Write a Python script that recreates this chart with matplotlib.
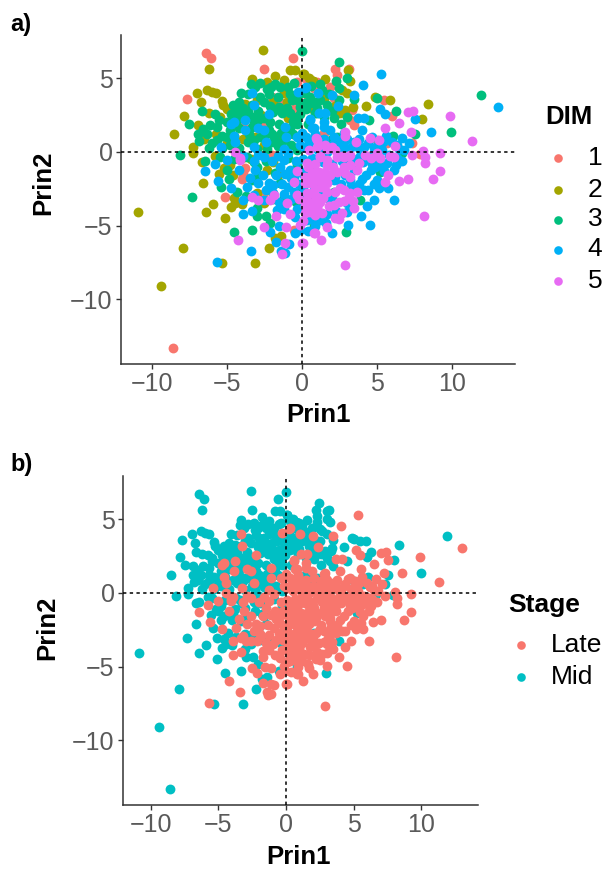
#coding=utf-8
"""
Two PCA score plots of the same points: a) coloured by DIM, b) coloured by Stage
"""
import numpy as np
import matplotlib
matplotlib.use('Agg')
import matplotlib.pyplot as plt
from matplotlib.lines import Line2D

plt.rcParams['font.family'] = ['Liberation Sans', 'DejaVu Sans']

# points, (Prin1, Prin2)
dim1 = [(-8.6,-13.3),(-6.4,6.72),(-6.07,6.36),(-7.67,3.62),(-0.6,6.36),(-2.51,5.63),(-0.33,4.77),(-2.0,3.76),
        (0.78,4.32),(1.0,4.77),(2.22,5.63),(3.16,5.63),(2.33,5.23),(0.33,4.89),(2.11,3.64),(5.45,3.53),(6.0,2.44),
        (3.22,2.17),(3.45,1.83),(3.33,2.85),(1.45,1.27),(5.67,0.59),(7.33,0.59),(5.0,0.81),(7.89,-0.14),
        (-5.11,-3.03),(-4.0,-1.83),(-3.78,-1.11),(-3.89,-1.45),(-2.6,-2.87),(-0.55,-5.3),(-2.0,-0.2),
        (-1.4,3.3),(-0.5,2.9),(-2.6,1.8),(-3.9,1.9),(0.4,3.6),(1.9,4.4)]
dim2 = [(-9.4,-9.1),(-2.6,6.95),(-6.18,5.63),(-8.49,1.24),(-7.84,2.44),(-6.98,3.98),(-6.29,4.21),(-6.0,4.1),
        (-5.71,3.98),(-6.69,3.42),(-5.29,3.48),(-5.27,3.19),(-6.22,2.62),(-5.44,2.35),(-6.89,1.83),(-7.27,0.32),
        (-3.33,4.93),(-1.78,5.18),(-0.78,5.54),(-0.44,5.54),(0.07,5.29),(-1.22,4.89),(-2.33,4.77),(0.73,4.82),
        (-1.22,3.98),(-1.0,3.42),(-3.78,3.26),(-3.1,1.04),(-5.0,0.6),(0.11,5.29),(0.73,4.84),(1.56,4.93),
        (3.05,5.54),(3.22,4.82),(3.0,3.98),(4.27,3.14),(4.89,3.76),(5.89,3.51),(8.38,3.26),(8.0,2.22),(3.4,3.03),
        (2.56,2.62),(2.89,2.85),(0.78,2.85),(-10.89,-4.1),(-7.89,-6.49),(-6.4,-4.1),(-5.89,-3.51),(-6.62,-2.1),
        (-5.09,-4.48),(-5.31,-7.56),(-3.15,-7.56),(-2.22,-6.49),(-1.42,-5.68),(-1.78,-5.86),(-4.71,-3.76),
        (-4.55,-3.14),(-4.44,-3.5),(-4.0,-3.53),(-5.51,-1.49),(-6.67,-0.66),(-7.22,-0.09),(-4.78,-0.88),
        (-1.89,-0.66),(-2.55,-3.48),
        (-5.0,2.9),(-4.5,1.1),(-3.9,0.9),(-2.5,0.5),(-3.0,3.5),(-1.9,3.4),(-2.7,2.5),(-0.9,2.3),(-1.7,1.0),
        (-6.5,0.9),(-5.7,1.2),(-3.4,-0.5),(-4.6,-1.6),(-5.2,-1.1),(-2.3,-1.2),(-1.6,-1.6),(-3.0,-2.8),(-2.0,-2.7),
        (-4.0,-0.4),(-5.8,-0.3),(0.5,5.0),(1.5,3.6),(2.2,3.1),(2.7,4.2)]
dim3 = [(0.02,6.85),(-8.1,-0.2),(-6.67,2.78),(-7.49,1.92),(-6.82,0.75),(-4.04,3.98),(-3.11,4.43),(-2.04,4.43),
        (-1.44,4.43),(-4.44,2.92),(-2.55,3.42),(-6.6,1.56),(-6.11,1.83),(-5.67,1.72),(-5.67,0.81),(-5.0,2.0),
        (-4.0,2.62),(-3.33,2.4),(-3.22,1.95),(-2.55,2.28),(-1.55,3.08),(-1.33,2.62),(-0.67,3.53),(-0.11,3.08),
        (0.56,3.3),(-2.22,1.49),(-1.78,0.81),(-0.78,2.62),(-0.33,2.4),(1.0,2.62),(-3.33,1.72),(-4.33,2.17),
        (2.45,6.11),(2.29,4.82),(3.0,5.04),(2.49,4.37),(1.33,4.2),(3.49,3.6),(5.02,3.64),(6.29,2.8),(4.49,2.17),
        (7.51,1.22),(6.07,1.11),(9.96,1.36),(11.93,3.85),(0.56,3.76),(1.22,3.53),(1.67,3.19),(0.22,3.3),(0.89,2.62),
        (2.11,2.28),(2.33,1.04),(-6.44,-0.59),(-7.35,-3.03),(-4.84,-1.85),(-5.4,-2.35),(-4.29,-2.69),(-4.53,-5.41),
        (-3.31,-5.29),(-2.98,-4.34),(-2.42,-4.34),(-5.44,-0.32),(-3.67,-0.32),(-3.22,-0.66),(-2.89,-1.56),
        (-3.33,-1.9),(-1.44,-2.13),(-1.22,-3.03),(0.0,-2.35),(0.78,-5.0),(0.0,-3.7),(2.93,-5.41),(5.22,-1.38),
        (0.89,-2.92),(3.89,-3.26),(2.11,-2.69),(0.89,-4.6),(6.67,-0.09),
        (-3.4,4.6),(-2.8,4.7),(-2.3,4.3),(-1.8,4.6),(-0.9,4.4),(-0.5,4.7),(-3.6,3.9),(-2.8,3.7),(-2.2,3.9),(-1.6,3.7),
        (-0.8,3.9),(-0.2,3.9),(-4.2,3.4),(-3.3,3.2),(-2.1,3.1),(-1.0,3.0),(-0.3,3.5),(-4.7,2.6),(-3.6,2.7),(-2.9,2.8),
        (-1.9,2.7),(-0.6,2.1),(-0.1,2.6),(-5.5,2.2),(-4.8,1.5),(-4.2,1.6),(-3.5,1.2),(-2.9,2.2),(-2.1,2.0),(-1.5,1.9),
        (-0.8,1.6),(-0.3,1.9),(-6.3,1.2),(-5.3,1.1),(-4.8,0.5),(-4.2,0.3),(-3.6,0.7),(-2.8,1.0),(-2.0,1.2),(-1.4,1.3),
        (-0.6,1.2),(-6.0,0.6),(-5.3,0.3),(-3.0,0.2),(-2.3,0.2),(-1.6,0.4),(-0.7,0.5),(-0.3,0.1),(0.4,1.9),(1.0,3.0),
        (1.5,2.4),(0.3,2.9),(0.6,4.5),(1.2,4.6),(1.8,3.9),(2.5,3.5),(0.9,3.4),(0.2,4.0),(2.0,2.8),(3.0,2.4),(2.6,1.9),
        (2.0,0.9),(-5.0,-1.2),(-4.5,-0.5),(-3.0,-1.0),(-2.4,-0.6),(-1.8,-1.4),(-0.9,-0.4),(-3.7,-3.0),(-3.0,-3.8),
        (-2.1,-4.8),(-1.9,-3.2),(-0.4,-3.4),(-0.3,-0.9),
        (-6.9,1.2),(-6.2,0.3),(-5.8,2.6),(-4.6,3.2),(-5.0,1.0),(-4.4,2.4),(-3.9,3.0),(-3.2,0.8),(-2.5,1.0),(-2.0,0.7),
        (-1.2,0.8),(-0.9,1.2)]
dim4 = [(-3.31,3.98),(-3.22,3.17),(-2.18,2.56),(-4.55,2.06),(-3.78,2.17),(-4.73,1.9),(-3.82,1.49),(-2.89,1.6),
        (-2.55,1.49),(-1.11,1.72),(-4.55,1.09),(-1.07,1.0),(-2.4,0.7),(-3.22,0.32),(-5.4,0.32),(-0.27,4.1),
        (0.27,4.4),(0.56,2.17),(0.67,1.6),(-0.33,1.04),(0.0,1.27),(0.45,0.6),(-1.22,0.18),(-0.11,0.48),(-4.44,0.7),
        (5.29,5.29),(4.05,4.57),(1.98,3.87),(3.45,3.87),(1.05,3.98),(0.22,4.32),(2.4,3.12),(5.2,2.9),(5.51,2.56),
        (3.73,2.31),(4.11,2.28),(7.51,2.22),(4.0,1.49),(8.58,1.36),(13.05,3.03),(1.11,2.62),(1.56,2.62),(0.56,2.22),
        (1.45,2.06),(1.45,1.72),(0.78,1.6),(1.89,1.49),(2.11,1.04),(2.78,1.27),(3.45,0.7),(4.11,0.36),(6.67,0.93),
        (7.11,0.59),(6.33,0.47),(6.78,0.14),(5.33,0.14),(4.78,0.25),(2.78,0.36),(0.56,0.81),(0.11,0.36),(1.22,0.81),
        (-6.44,-1.27),(-5.78,-0.81),(-5.0,-0.54),(-5.62,-1.94),(-4.73,-2.47),(-4.2,-1.24),(-3.11,-1.22),(-3.44,-1.79),
        (-3.67,-2.35),(-2.89,-2.13),(-2.22,-2.13),(-1.89,-2.24),(-3.89,-3.26),(-2.55,-3.26),(-1.22,-2.87),(-3.91,-4.23),
        (-3.33,-3.98),(-1.67,-3.94),(-1.22,-3.89),(-0.44,-4.39),(-2.15,-5.41),(-1.55,-5.0),(-0.44,-5.52),(-0.89,-6.24),
        (-1.69,-6.13),(-1.38,-6.72),(-1.11,-6.88),(-3.4,-6.72),(-5.67,-7.44),(-2.55,-0.32),(-1.22,-0.54),(-1.44,-1.0),
        (-0.78,-1.22),(-0.55,-1.67),(0.11,-2.8),(0.33,-4.6),(0.78,-4.6),(0.67,-4.1),(4.78,-2.19),(5.16,-2.42),
        (5.71,-2.47),(4.82,-3.26),(6.11,-3.26),(4.33,-3.64),(3.93,-4.32),(4.51,-4.95),(3.07,-4.95),(1.62,-4.84),
        (1.98,-5.52),(0.89,-5.0),(3.0,-4.05),(1.89,-3.26),(4.11,-2.58),(4.0,-1.85),(4.89,-1.0),(6.11,-1.22),(5.67,-0.77),
        (4.56,-0.32),(6.33,-0.43),(3.22,-1.9),(2.11,-1.9),(0.78,-2.58),(0.11,-3.71),(0.22,-4.6),
        (0.3,1.0),(0.9,1.2),(1.5,0.9),(2.0,0.5),(2.6,0.8),(3.2,0.3),(3.8,0.9),(4.4,0.6),(5.0,0.4),(5.6,1.1),(6.0,0.7),
        (0.5,0.2),(1.1,0.1),(1.7,0.0),(2.4,-0.1),(3.0,-0.4),(0.1,-0.5),(0.7,-0.4),(1.4,-0.7),(2.0,-0.8),(2.7,-0.6),
        (3.4,-0.5),(4.1,-0.7),(4.6,-1.2),(5.2,-0.6),(5.8,-0.2),(6.3,-0.9),(3.5,-1.2),(4.3,-1.6),(5.0,-1.9),(5.5,-1.3),
        (2.9,-1.6),(2.2,-1.7),(1.4,-1.8),(0.5,-1.2),(0.1,-1.5),(-0.4,-0.6),(-0.9,-0.1),(-0.2,-1.2),(-0.7,-1.8),(-0.2,-2.2),
        (-1.1,-1.5),(-0.5,-2.7),(-0.9,-2.4),(-1.7,-1.6),(-2.0,-0.6),(-1.6,-0.3),(0.1,-2.4),(0.6,-3.0),(1.1,-2.5),(1.5,-3.0),
        (2.0,-3.1),(2.6,-2.2),(3.3,-2.3),(3.8,-2.2),(4.4,-2.6),(3.0,-3.5),(2.3,-4.0),(1.7,-4.2),(1.2,-4.6),(0.4,-3.1),
        (-0.3,-3.9),(-0.7,-3.2),(-1.5,-3.4),(-0.1,-5.3),(0.4,-5.4),(-3.2,-0.6),(-2.9,-0.2),(-3.9,-0.3),(-1.9,-2.8),
        (3.8,0.3),(4.7,1.0),(5.4,0.7),(6.7,-0.6),(6.5,0.2),(3.9,-0.3),(4.7,-0.8),(5.4,-1.0),(3.0,0.9),(2.4,0.4),
        (-2.6,-1.6),(-2.4,-2.6),(-3.2,-2.9),(-1.3,-2.2)]
dim5 = [(-4.44,0.02),(1.0,0.81),(1.0,0.36),(-4.1,-0.4),(7.05,2.74),(7.38,2.78),(9.89,2.44),(5.53,1.61),(6.49,1.97),
        (7.27,1.38),(11.31,0.77),(4.56,0.93),(5.11,0.81),(3.62,0.65),(2.89,1.38),(2.89,1.09),(0.96,0.93),(1.11,0.47),
        (1.56,0.47),(2.0,0.36),(2.22,0.14),(6.22,0.41),(8.07,0.07),(9.22,-0.09),(5.89,-0.27),(1.22,-0.3),(2.67,-0.3),
        (3.11,-0.3),(7.33,-0.2),(8.22,-0.32),(-4.09,-0.54),(-4.24,-6.0),(-3.31,-3.03),(-2.95,-3.26),(-2.11,-3.26),
        (-1.84,-2.92),(-0.98,-3.48),(-1.71,-4.34),(-0.82,-4.23),(-2.49,-5.07),(-1.07,-5.07),(-1.11,-6.15),(-1.31,-6.95),
        (0.0,-6.15),(-0.11,-4.95),(-0.55,-2.06),(0.67,-1.45),(0.56,-2.13),(1.0,-1.79),(0.67,-2.8),(0.45,-3.48),(0.56,-4.05),
        (0.89,-5.52),(1.0,-3.71),(1.0,-3.03),(2.89,-7.67),(8.11,-4.32),(8.73,-1.85),(9.22,-1.27),(7.05,-1.83),(6.45,-1.97),
        (5.73,-1.56),(5.56,-2.06),(8.22,-0.72),(6.11,-0.32),(5.22,-0.43),(4.6,-0.43),(3.78,-0.77),(3.67,-1.22),(3.22,-0.88),
        (2.78,-0.32),(2.33,-0.32),(1.22,-0.32),(1.67,-0.54),(0.33,-0.77),(2.78,-1.0),(2.33,-1.33),(1.56,-1.33),(1.11,-1.33),
        (0.78,-1.45),(3.22,-1.67),(1.22,-2.0),(0.56,-2.0),(0.22,-2.13),(1.67,-2.13),(1.67,-2.69),(2.51,-2.42),(3.22,-2.8),
        (3.67,-2.69),(3.11,-3.03),(2.45,-3.37),(2.11,-3.6),(3.45,-3.82),(2.67,-4.12),(2.22,-4.46),(2.49,-4.57),(1.22,-3.37),
        (1.33,-4.16),(1.0,-3.71),(0.56,-3.48),(0.33,-2.8),(0.56,-3.94),(0.78,-5.52),(1.29,-5.97),(0.07,-6.15),(0.33,-3.26),
        (0.22,-4.16),(3.22,-0.2),
        (0.4,-1.0),(0.9,-0.8),(1.7,-0.9),(2.1,-1.0),(2.9,-1.4),(0.2,-1.7),(0.9,-1.9),(1.4,-1.7),(1.9,-1.6),(0.9,-2.5),
        (1.3,-2.4),(2.2,-2.7),(2.8,-2.6),(1.4,-3.1),(0.9,-3.3),(0.2,-3.7),(0.9,-4.3),(2.8,-3.3),(1.8,-3.7),(3.4,-3.3),
        (-0.3,-2.9),(-0.2,-3.2),(-0.3,-1.3),(0.5,0.1),(1.7,0.2),(4.2,-0.2),(5.0,-0.1),(0.1,-4.7),(1.7,-5.1)]

dim_groups = [dim1, dim2, dim3, dim4, dim5]
dim_labels = ['1', '2', '3', '4', '5']
dim_colors = ['#F8766D', '#A3A500', '#00BF7D', '#00B0F6', '#E76BF3']

# DIM 1-3 are Mid, DIM 4-5 are Late
stage_labels = ['Late', 'Mid']
stage_colors = ['#F8766D', '#00BFC4']
stage_of_dim = [1, 1, 1, 0, 0]

xticks = [-10, -5, 0, 5, 10]
yticks = [-10, -5, 0, 5]

W, H = 609.0, 876.0
AXC = '#333333'
TICKC = '#5A5A5A'

def make_axes(fig, left, right, top, bottom):
    ax = fig.add_axes([left/W, 1-bottom/H, (right-left)/W, (bottom-top)/H])
    ax.set_xlim(-12.05, 14.2)
    ax.set_ylim(-14.4, 7.94)
    ax.spines['top'].set_visible(False)
    ax.spines['right'].set_visible(False)
    ax.spines['left'].set_linewidth(1.1)
    ax.spines['bottom'].set_linewidth(1.1)
    ax.spines['left'].set_color(AXC)
    ax.spines['bottom'].set_color(AXC)
    ax.set_xticks(xticks)
    ax.set_yticks(yticks)
    ax.tick_params(labelsize=18, length=3.5, width=1.0, color=AXC, labelcolor=TICKC, pad=2.5)
    ax.axhline(0, color='black', lw=1.1, ls=(0, (2.2, 2.2)), zorder=5)
    ax.axvline(0, color='black', lw=1.1, ls=(0, (2.2, 2.2)), zorder=5)
    return ax

def px_text(fig, x, y, s, **kw):
    fig.text(x/W, 1-y/H, s, va='center', **kw)

def px_dot(fig, x, y, color):
    fig.add_artist(Line2D([x/W], [1-y/H], marker='o', ms=6.2, mew=0, color=color, transform=fig.transFigure))

fig = plt.figure(figsize=(6.09, 8.76), dpi=100)

# panel a
ax1 = make_axes(fig, 121, 515, 35, 364)
for pts, col in zip(dim_groups, dim_colors):
    arr = np.array(pts)
    ax1.scatter(arr[:, 0], arr[:, 1], s=50, color=col, linewidths=0, zorder=3)

# panel b, drawn in the same order so Late ends up on top
ax2 = make_axes(fig, 123, 478, 476, 805)
for pts, st in zip(dim_groups, stage_of_dim):
    arr = np.array(pts)
    ax2.scatter(arr[:, 0], arr[:, 1], s=50, color=stage_colors[st], linewidths=0, zorder=3)

px_text(fig, 10, 25, 'a)', fontsize=17, fontweight='bold', ha='left')
px_text(fig, 10, 465, 'b)', fontsize=17, fontweight='bold', ha='left')

px_text(fig, 318, 415, 'Prin1', fontsize=18.5, fontweight='bold', ha='center')
px_text(fig, 43, 183, 'Prin2', fontsize=18.5, fontweight='bold', ha='center', rotation=90)
px_text(fig, 299, 857, 'Prin1', fontsize=18.5, fontweight='bold', ha='center')
px_text(fig, 47, 628, 'Prin2', fontsize=18.5, fontweight='bold', ha='center', rotation=90)

# legends
px_text(fig, 545, 117, 'DIM', fontsize=18.5, fontweight='bold', ha='left')
for lab, col, y in zip(dim_labels, dim_colors, [158, 190, 219.5, 249.5, 281]):
    px_dot(fig, 558, y, col)
    px_text(fig, 595, y, lab, fontsize=19, ha='center')

px_text(fig, 508, 605, 'Stage', fontsize=19, fontweight='bold', ha='left')
for lab, col, y in zip(stage_labels, stage_colors, [645, 677]):
    px_dot(fig, 521, y, col)
    px_text(fig, 551, y, lab, fontsize=19, ha='left')

plt.savefig('out.png', dpi=100)
plt.close()
